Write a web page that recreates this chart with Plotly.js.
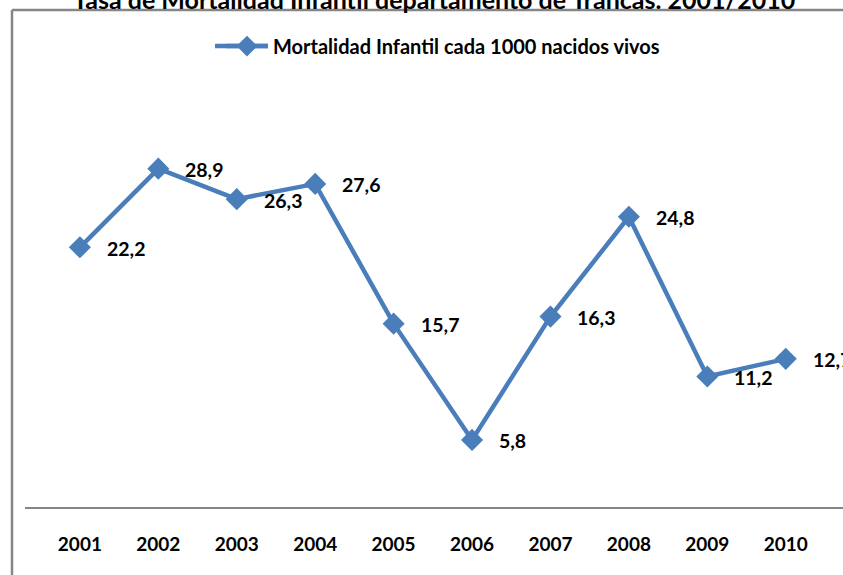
<!DOCTYPE html>
<html>
<head>
<meta charset="utf-8">
<script src="https://cdn.plot.ly/plotly-3.0.1.min.js"></script>
<style>html,body{margin:0;padding:0;background:#fff;}#chart{width:843px;height:575px;}</style>
</head>
<body>
<div id="chart"></div>
<script>
const years = ["2001","2002","2003","2004","2005","2006","2007","2008","2009","2010"];
const values = [22.2, 28.9, 26.3, 27.6, 15.7, 5.8, 16.3, 24.8, 11.2, 12.7];
const valueLabels = ["22,2","28,9","26,3","27,6","15,7","5,8","16,3","24,8","11,2","12,7"];
const seriesName = "Mortalidad Infantil cada 1000 nacidos vivos";
const chartTitle = "Tasa de Mortalidad Infantil departamento de Trancas. 2001/2010";

const FONT = "Lato, 'Noto Sans', sans-serif";
const BLUE = "#4a7ebb";

const annotations = values.map((v, i) => ({
  x: i, y: v, xref: 'x', yref: 'y',
  text: valueLabels[i], showarrow: false,
  xanchor: 'left', yanchor: 'middle',
  xshift: 25, yshift: -1,
  font: {family: FONT, size: 19.5, color: '#000', weight: 'bold'}
}));

const trace = {
  x: years, y: values, type: 'scatter', mode: 'lines+markers',
  name: seriesName,
  line: {color: BLUE, width: 4.5},
  marker: {symbol: 'diamond', size: 17, color: BLUE},
  cliponaxis: false
};

const layout = {
  width: 843, height: 575,
  margin: {l: 25, r: 0, t: 97, b: 67},
  paper_bgcolor: '#fff', plot_bgcolor: '#fff',
  title: {text: chartTitle, font: {family: FONT, size: 25, color: '#000', weight: 'bold'},
          x: 0.515, xanchor: 'center', y: 1, yref: 'container', yanchor: 'middle',
          pad: {t: 0, b: 0, l: 0, r: 0}},
  showlegend: true,
  legend: {orientation: 'h', x: 0.2396, xanchor: 'left', y: 1.124, yanchor: 'middle',
           itemwidth: 42,
           font: {family: FONT, size: 20, color: '#000', weight: 'bold'}, bgcolor: 'rgba(0,0,0,0)'},
  xaxis: {type: 'category', range: [-0.70, 9.73], showgrid: false, zeroline: false,
          showline: false, ticks: '', ticklen: 0, ticklabelstandoff: 23,
          tickfont: {family: FONT, size: 19, color: '#000', weight: 'bold'}, automargin: false},
  yaxis: {range: [0, 35], visible: false, showgrid: false, zeroline: false, fixedrange: true},
  annotations: annotations,
  shapes: [
    {type: 'line', xref: 'paper', yref: 'paper', x0: 0, x1: 1, y0: 0, y1: 0,
     line: {color: '#868686', width: 2}},
    {type: 'line', xref: 'paper', yref: 'paper', x0: -0.0159, x1: -0.0159, y0: 1.2117, y1: -0.2,
     line: {color: '#868686', width: 2.5}},
    {type: 'line', xref: 'paper', yref: 'paper', x0: -0.0159, x1: 1.01, y0: 1.2117, y1: 1.2117,
     line: {color: '#868686', width: 2.5}},
    {type: 'line', xref: 'paper', yref: 'paper', x0: 0.2323, x1: 0.2971, y0: 1.124, y1: 1.124,
     line: {color: BLUE, width: 4.5}}
  ]
};

Plotly.newPlot('chart', [trace], layout, {displayModeBar: false, staticPlot: true});
</script>
</body>
</html>
